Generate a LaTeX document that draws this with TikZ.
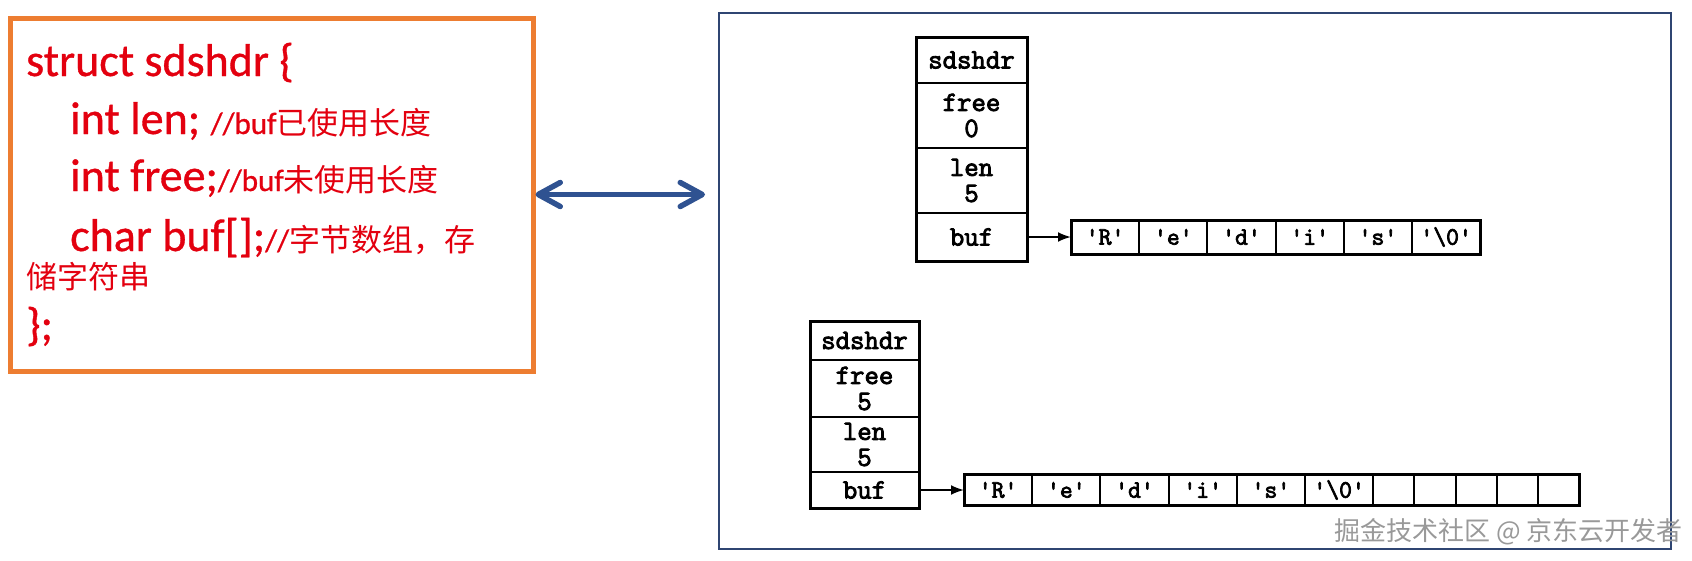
\documentclass[tikz,border=0pt]{standalone}
\usepackage{fontspec}
\setmainfont{Carlito}
\newfontfamily\heavy{Carlito}[FakeBold=0.8]
\newfontfamily\typefont{Latin Modern Mono}[FakeBold=3]
\newfontfamily\cjk{Noto Sans CJK SC}
\usetikzlibrary{arrows.meta,positioning}
\definecolor{codered}{HTML}{E3000F}
\definecolor{frameorange}{HTML}{ED7D31}
\definecolor{frameblue}{HTML}{2F4572}
\definecolor{arrowblue}{HTML}{2F5291}

\begin{document}
\begin{tikzpicture}[x=1pt, y=-1pt, > = Latex]
            \tikzstyle{field}=[rectangle, draw, line width=2pt, inner sep=0pt, outer sep=0pt, minimum width=111pt, align=center, font=\typefont\fontsize{28}{26}\selectfont]
            \tikzstyle{cell}=[rectangle, draw, line width=2pt, inner sep=0pt, outer sep=0pt, minimum width=68.2pt, minimum height=34pt, font=\typefont\fontsize{25}{25}\selectfont]
            \tikzstyle{spare}=[cell, minimum width=41.2pt]
            \tikzstyle{codeline}=[anchor=base west, inner sep=0pt, text=codered, font=\heavy\fontsize{46}{46}\selectfont]
            \tikzstyle{ptr}=[-{Latex[length=13pt,width=10pt]}, line width=2pt]
            \newcommand{\cmt}[1]{{\fontsize{31}{31}\selectfont #1}}

                        \useasboundingbox (0,0) rectangle (1692,560);

                        % Caixas
                        \node[draw=frameorange, line width=5pt, inner sep=0pt, minimum width=523pt, minimum height=353pt, anchor=north west] (code) at (7.5,15.5) {};
                        \node[draw=frameblue, line width=2.5pt, inner sep=0pt, outer sep=0pt, minimum width=952pt, minimum height=536pt, anchor=north west] (diagram) at (719,13) {};

                        % Codigo
                        \node[codeline] (line1) at (26,76) {struct sdshdr \{};
                        \node[codeline] (line2) at (70,134) {int len; \cmt{//buf{\cjk 已使用长度}}};
                        \node[codeline] (line3) at (70,191) {int free;\cmt{//buf{\cjk 未使用长度}}};
                        \node[codeline] (line4) at (70,251) {char buf[];\cmt{//{\cjk 字节数组，存}}};
                        \node[codeline] (line5) at (26,288) {\cmt{\cjk 储字符串}};
                        \node[codeline] (line6) at (26,340) {\};};

                        % sdshdr cheio
                        \node[field, minimum height=46pt, anchor=north] (h1) at (971.5,37) {sdshdr};
                        \node[field, minimum height=65pt, below=0pt of h1] (f1) {free\\0};
                        \node[field, minimum height=65pt, below=0pt of f1] (l1) {len\\5};
                        \node[field, minimum height=48pt, below=0pt of l1] (b1) {buf};
                        \draw[line width=3pt] (h1.north west) rectangle (b1.south east);

                        \node[cell, anchor=west] (c1-1) at (1071,237) {'R'};
                        \node[cell, right=0pt of c1-1] (c1-2) {'e'};
                        \node[cell, right=0pt of c1-2] (c1-3) {'d'};
                        \node[cell, right=0pt of c1-3] (c1-4) {'i'};
                        \node[cell, right=0pt of c1-4] (c1-5) {'s'};
                        \node[cell, right=0pt of c1-5] (c1-6) {'\textbackslash0'};
                        \draw[line width=3pt] (c1-1.north west) rectangle (c1-6.south east);

                        % sdshdr com espaco livre
                        \node[field, minimum width=109pt, minimum height=39pt, anchor=north] (h2) at (864.5,321) {sdshdr};
                        \node[field, minimum width=109pt, minimum height=57pt, below=0pt of h2] (f2) {free\\5};
                        \node[field, minimum width=109pt, minimum height=55pt, below=0pt of f2] (l2) {len\\5};
                        \node[field, minimum width=109pt, minimum height=36pt, below=0pt of l2] (b2) {buf};
                        \draw[line width=3pt] (h2.north west) rectangle (b2.south east);

                        \node[cell, minimum height=31pt, anchor=west] (c2-1) at (964,490) {'R'};
                        \node[cell, minimum height=31pt, right=0pt of c2-1] (c2-2) {'e'};
                        \node[cell, minimum height=31pt, right=0pt of c2-2] (c2-3) {'d'};
                        \node[cell, minimum height=31pt, right=0pt of c2-3] (c2-4) {'i'};
                        \node[cell, minimum height=31pt, right=0pt of c2-4] (c2-5) {'s'};
                        \node[cell, minimum height=31pt, right=0pt of c2-5] (c2-6) {'\textbackslash0'};
                        \node[spare, minimum height=31pt, right=0pt of c2-6] (c2-7) {};
                        \node[spare, minimum height=31pt, right=0pt of c2-7] (c2-8) {};
                        \node[spare, minimum height=31pt, right=0pt of c2-8] (c2-9) {};
                        \node[spare, minimum height=31pt, right=0pt of c2-9] (c2-10) {};
                        \node[spare, minimum height=31pt, right=0pt of c2-10] (c2-11) {};
                        \draw[line width=3pt] (c2-1.north west) rectangle (c2-11.south east);

                        % Setas
                        \draw[ptr] (b1) -- (c1-1);
                        \draw[ptr] (b2) -- (c2-1);
                        \draw[{Straight Barb[length=22pt,width=24pt,round]}-{Straight Barb[length=22pt,width=24pt,round]}, line width=5.5pt, arrowblue, line cap=round, shorten >=14pt] (code.east) -- (code.east -| diagram.west);

                        % Marca
                        \node[anchor=base east, inner sep=0pt, text=black!40, font=\cjk\fontsize{26}{26}\selectfont] (mark) at (1683,540) {掘金技术社区 @ 京东云开发者};
                  \end{tikzpicture}
\end{document}
